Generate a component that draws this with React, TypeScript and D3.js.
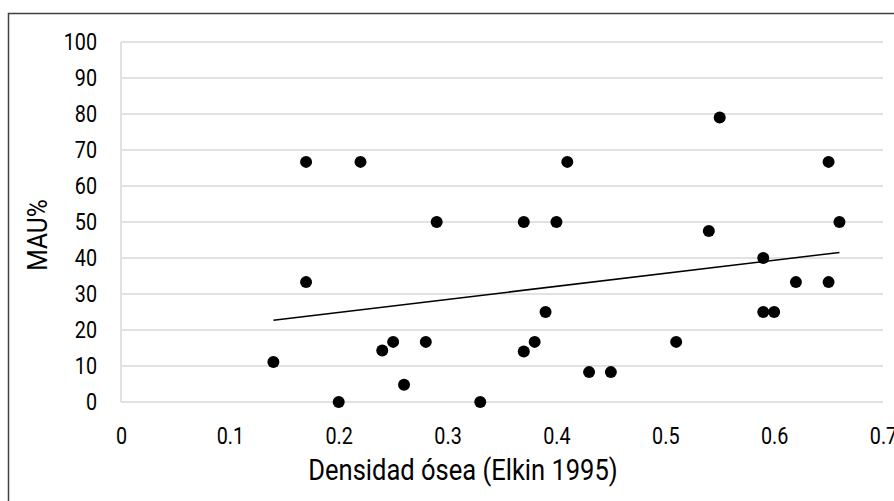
import React, { useRef, useEffect } from 'react';
import * as d3 from 'd3';

// densidad ósea (Elkin 1995) vs MAU%
const density = [
  0.14, 0.17, 0.17, 0.2, 0.22, 0.24, 0.25, 0.26, 0.28, 0.29, 0.33, 0.37, 0.37, 0.38, 0.39,
  0.4, 0.41, 0.43, 0.45, 0.51, 0.54, 0.55, 0.59, 0.59, 0.6, 0.62, 0.65, 0.65, 0.66,
];
const mau = [
  11.1, 66.7, 33.3, 0, 66.7, 14.3, 16.7, 4.8, 16.7, 50, 0, 50, 14, 16.7, 25,
  50, 66.7, 8.3, 8.3, 16.7, 47.5, 79, 40, 25, 25, 33.3, 66.7, 33.3, 50,
];
const xTicks = [0, 0.1, 0.2, 0.3, 0.4, 0.5, 0.6, 0.7];
const yTicks = [0, 10, 20, 30, 40, 50, 60, 70, 80, 90, 100];
const xTitle = 'Densidad ósea (Elkin 1995)';
const yTitle = 'MAU%';

const ScatterChart = () => {
  const svgRef = useRef<SVGSVGElement>(null);

  useEffect(() => {
    const svg = d3.select(svgRef.current);
    svg.selectAll('*').remove();

    const left = 121, right = 883, top = 42, bottom = 402;
    const font = 'Roboto, sans-serif';
    const squeeze = 0.86; // fake a condensed face

    const x = d3.scaleLinear().domain([0, 0.7]).range([left, right]);
    const y = d3.scaleLinear().domain([0, 100]).range([bottom, top]);

    // chart border
    svg.append('rect')
      .attr('x', 8.5).attr('y', 13.5)
      .attr('width', 900).attr('height', 500)
      .attr('fill', 'white')
      .attr('stroke', '#404040')
      .attr('stroke-width', 1.5);

    // gridlines
    svg.append('g')
      .selectAll('line')
      .data(yTicks)
      .join('line')
      .attr('x1', left).attr('x2', right)
      .attr('y1', d => y(d)).attr('y2', d => y(d))
      .attr('stroke', '#d9d9d9')
      .attr('stroke-width', 1.5);

    svg.append('line')
      .attr('x1', left).attr('x2', left)
      .attr('y1', top).attr('y2', bottom)
      .attr('stroke', '#d9d9d9')
      .attr('stroke-width', 1.5);

    // axes
    const xAxis = d3.axisBottom(x)
      .tickValues(xTicks)
      .tickSize(0)
      .tickPadding(26)
      .tickFormat(d => String(+(+d).toFixed(1)));

    const gx = svg.append('g')
      .attr('transform', `translate(0,${bottom})`)
      .call(xAxis);
    gx.select('.domain').remove();
    gx.selectAll('.tick text')
      .attr('transform', `scale(${squeeze},1)`);

    const yAxis = d3.axisLeft(y)
      .tickValues(yTicks)
      .tickSize(0)
      .tickPadding(24);

    const gy = svg.append('g')
      .attr('transform', `translate(${left},0)`)
      .call(yAxis);
    gy.select('.domain').remove();
    gy.selectAll('.tick text')
      .attr('x', -24 / squeeze)
      .attr('transform', `scale(${squeeze},1)`);

    svg.selectAll('.tick text')
      .attr('font-family', font)
      .attr('font-size', 23)
      .attr('fill', '#000');

    // trendline (least squares)
    const mx = d3.mean(density)!;
    const my = d3.mean(mau)!;
    const slope = d3.sum(density, (d, i) => (d - mx) * (mau[i] - my)) /
      d3.sum(density, d => (d - mx) ** 2);
    const icpt = my - slope * mx;
    const ext = d3.extent(density) as [number, number];

    const line = d3.line<number>()
      .x(d => x(d))
      .y(d => y(icpt + slope * d));

    svg.append('path')
      .datum(ext)
      .attr('d', line)
      .attr('fill', 'none')
      .attr('stroke', '#000')
      .attr('stroke-width', 1.5);

    // points
    svg.append('g')
      .selectAll('circle')
      .data(density)
      .join('circle')
      .attr('cx', d => x(d))
      .attr('cy', (d, i) => y(mau[i]))
      .attr('r', 6)
      .attr('fill', '#000');

    // titles
    svg.append('text')
      .attr('transform', `translate(${(left + right) / 2 - 39},480) scale(0.88,1)`)
      .attr('text-anchor', 'middle')
      .attr('font-family', font)
      .attr('font-size', 29)
      .attr('fill', '#000')
      .text(xTitle);

    svg.append('text')
      .attr('transform', `translate(47,235) rotate(-90) scale(0.88,1)`)
      .attr('text-anchor', 'middle')
      .attr('font-family', font)
      .attr('font-size', 28)
      .attr('fill', '#000')
      .text(yTitle);
  }, []);

  return (
    <svg
      ref={svgRef}
      width={894}
      height={501}
      style={{ position: 'absolute', left: 0, top: 0 }}
    />
  );
};

export default function App() {
  return <ScatterChart />;
}
